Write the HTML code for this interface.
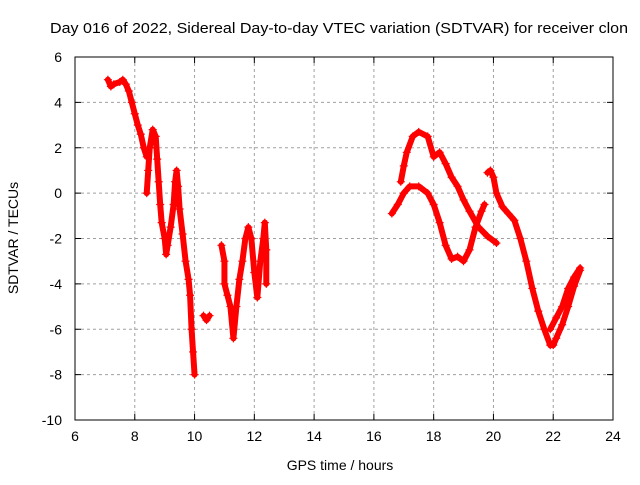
<!DOCTYPE html>
<html><head><meta charset="utf-8"><style>
body{margin:0;background:#fff}
svg text{font-family:"Liberation Sans",sans-serif;font-size:14px;fill:#000}
</style></head><body>
<svg id="c" width="640" height="480">
<rect width="640" height="480" fill="#fff"/>
<text x="50" y="33" textLength="578" lengthAdjust="spacingAndGlyphs" style="font-size:15px">Day 016 of 2022, Sidereal Day-to-day VTEC variation (SDTVAR) for receiver clon</text>
<text x="340" y="470" text-anchor="middle">GPS time / hours</text>
<text transform="translate(18,238) rotate(-90)" text-anchor="middle">SDTVAR / TECUs</text>
<g id="grid"></g><g id="data"></g>
<rect x="75" y="57" width="538" height="363" fill="none" stroke="#000"/>
</svg>
<script>
const xTicks=[6,8,10,12,14,16,18,20,22,24];
const yTicks=[-10,-8,-6,-4,-2,0,2,4,6];
const seg1=[[7.1,5.0],[7.2,4.7],[7.3,4.8],[7.5,4.9],[7.6,5.0],[7.7,4.8],[7.8,4.5],[7.9,4.0],[8.0,3.5],[8.1,3.0],[8.2,2.6],[8.3,2.0],[8.4,1.6],[8.5,2.0],[8.6,2.8],[8.7,2.5],[8.75,1.5],[8.8,0.5],[8.85,-0.5],[8.9,-1.3],[9.0,-2.0],[9.05,-2.7],[9.1,-2.3],[9.2,-1.5],[9.3,-0.5],[9.35,0.5],[9.4,1.0],[9.45,0.3],[9.5,-0.7],[9.6,-1.8],[9.7,-3.0],[9.8,-3.8],[9.85,-4.5],[9.9,-6.0],[9.95,-7.0],[10.0,-8.0]];
const seg1b=[[8.5,2.0],[8.45,1.0],[8.4,0.0]];
const seg1c=[[10.3,-5.4],[10.4,-5.6],[10.5,-5.4]];
const seg1d=[[10.9,-2.3],[11.0,-3.0],[11.0,-4.0],[11.1,-4.5],[11.2,-5.0],[11.3,-6.4],[11.4,-5.0],[11.5,-3.8],[11.6,-3.0],[11.7,-2.0],[11.8,-1.5],[11.9,-2.0],[12.0,-3.5],[12.1,-4.6],[12.2,-3.0],[12.3,-2.0],[12.35,-1.3],[12.4,-2.5],[12.4,-4.0]];
const seg2=[[16.6,-0.9],[16.8,-0.5],[17.0,0.0],[17.2,0.3],[17.5,0.3],[17.8,0.0],[18.0,-0.5],[18.2,-1.3],[18.4,-2.3],[18.6,-2.9],[18.8,-2.8],[19.0,-3.0],[19.2,-2.5],[19.4,-1.5],[19.6,-0.8],[19.7,-0.5]];
const seg3=[[16.9,0.5],[17.0,1.2],[17.1,1.8],[17.3,2.5],[17.5,2.7],[17.8,2.5],[18.0,1.6],[18.2,1.8],[18.4,1.3],[18.6,0.7],[18.8,0.3],[19.0,-0.3],[19.2,-0.8],[19.5,-1.5],[19.8,-1.9],[20.1,-2.2]];
const seg4=[[19.8,0.9],[19.9,1.0],[20.0,0.7],[20.1,0.0],[20.3,-0.6],[20.5,-0.9],[20.7,-1.2],[20.9,-2.0],[21.1,-3.0],[21.3,-4.2],[21.5,-5.2],[21.7,-6.0],[21.9,-6.7],[22.0,-6.7],[22.1,-6.4],[22.3,-5.8],[22.5,-5.0],[22.7,-4.1],[22.9,-3.4]];
const seg4b=[[21.9,-6.0],[22.1,-5.5],[22.3,-5.0],[22.5,-4.2],[22.7,-3.7],[22.9,-3.3]];
const segments=[seg1,seg1b,seg1c,seg1d,seg2,seg3,seg4,seg4b];
const X=h=>75+(h-6)*538/18, Y=v=>57+(6-v)*363/16;
const NS='http://www.w3.org/2000/svg';
const g=document.getElementById('grid'), d=document.getElementById('data');
function mk(t,a,p){const e=document.createElementNS(NS,t);for(const k in a)e.setAttribute(k,a[k]);p.appendChild(e);return e;}
xTicks.forEach(t=>{const x=X(t);
 if(t>6&&t<24){const l=mk('line',{x1:x,x2:x,y1:57,y2:420,stroke:'#a0a0a0','stroke-dasharray':'3,3'},g);}
 mk('line',{x1:x,x2:x,y1:420,y2:414,stroke:'#000'},g);mk('line',{x1:x,x2:x,y1:57,y2:63,stroke:'#000'},g);
 const tx=mk('text',{x:x,y:441,'text-anchor':'middle'},g);tx.textContent=t;
 });
yTicks.forEach(t=>{const y=Y(t);
 if(t>-10&&t<6){const l=mk('line',{x1:75,x2:613,y1:y,y2:y,stroke:'#a0a0a0','stroke-dasharray':'3,3'},g);}
 mk('line',{x1:75,x2:81,y1:y,y2:y,stroke:'#000'},g);mk('line',{x1:613,x2:607,y1:y,y2:y,stroke:'#000'},g);
 const tx=mk('text',{x:62,y:y+5,'text-anchor':'end'},g);tx.textContent=t;
 });
segments.forEach(s=>{
 const pl=mk('polyline',{points:s.map(p=>X(p[0])+','+Y(p[1])).join(' '),fill:'none',stroke:'#f00','stroke-width':6,'stroke-linejoin':'round','stroke-linecap':'round'},d);
 
 
 s.forEach(p=>{const x=X(p[0]),y=Y(p[1]);
  const m=mk('path',{d:`M${x-4},${y}h8M${x},${y-4}v8`,stroke:'#f00','stroke-width':1.2},d);
  
  });
});
</script>
</body></html>
